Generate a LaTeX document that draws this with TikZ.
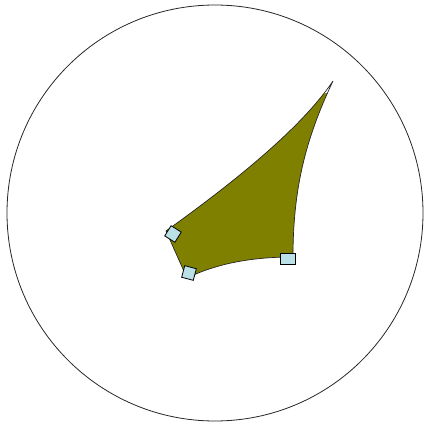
\documentclass[tikz,border=0pt]{standalone}
\definecolor{shapefill}{RGB}{128,128,0}
\definecolor{handle}{RGB}{185,225,230}
\begin{document}
\begin{tikzpicture}[x=1pt,y=-1pt,
  outline/.style={draw=black!85,line width=0.8pt},
  handlebox/.style={draw=black,line width=0.8pt,fill=handle,inner sep=0pt}]
\useasboundingbox (0,0) rectangle (424,423);
\draw[outline] (215,213) circle[radius=208];
\def\bodypath{(166,231) .. controls (230,185) and (300,130) .. (333,81)
  .. controls (305,140) and (293,190) .. (293,257)
  .. controls (260,257) and (222,261) .. (187,278) -- cycle}
\begin{scope}
  \clip (0,104) -- (424,90) -- (424,423) -- (0,423) -- cycle;
  \fill[shapefill] \bodypath;
\end{scope}
\draw[draw=black!85,line width=0.7pt] \bodypath;
\node[handlebox,rotate=-32,minimum width=12pt,minimum height=12pt] (h1) at (173,234) {};
\node[handlebox,rotate=-15,minimum width=12pt,minimum height=12pt] (h2) at (189,273) {};
\node[handlebox,minimum width=15pt,minimum height=11pt] (h3) at (287.5,258.5) {};
\end{tikzpicture}
\end{document}
